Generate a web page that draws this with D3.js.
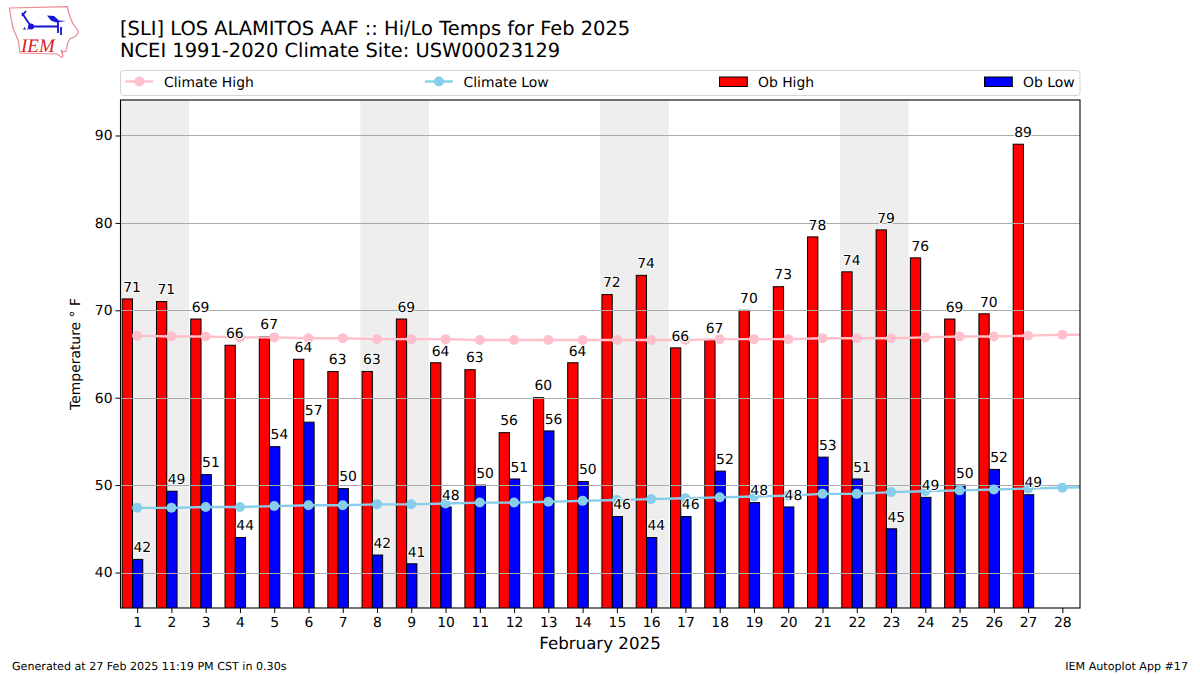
<!DOCTYPE html>
<html><head><meta charset="utf-8">
<script src="https://cdn.jsdelivr.net/npm/d3@7/dist/d3.min.js"></script>
<style>
html,body{margin:0;padding:0;background:#fff;}
svg{display:block;}
text{font-family:"DejaVu Sans",sans-serif;fill:#000;text-rendering:geometricPrecision;}
</style></head><body><svg id="c" width="1200" height="675"></svg>
<script>
const days = d3.range(1, 29);
const obHigh = [71.3,71,69,66,67,64.4,63,63,69,64,63.2,56,60,64,71.8,74,65.7,66.6,70,72.7,78.4,74.4,79.2,76,69,69.6,89];
const obLow = [41.5,49.3,51.2,44,54.4,57.2,49.6,42,41,47.5,50,50.7,56.2,50.4,46.4,44,46.4,51.6,48,47.5,53.2,50.7,45,48.6,50,51.8,48.9];
const climateHigh = [67.1,67,67,66.9,66.9,66.8,66.8,66.7,66.7,66.7,66.6,66.6,66.6,66.6,66.6,66.6,66.6,66.7,66.7,66.7,66.8,66.8,66.8,66.9,67,67,67.1,67.2,67.2];
const climateLow = [47.4,47.4,47.5,47.5,47.6,47.7,47.7,47.8,47.8,47.9,48,48,48.1,48.2,48.3,48.4,48.5,48.6,48.7,48.8,49,49,49.2,49.3,49.4,49.5,49.6,49.7,49.8];
const weekendStarts = [1,8,15,22];
const yTicks = [40,50,60,70,80,90];
const titleLines = ["[SLI] LOS ALAMITOS AAF :: Hi/Lo Temps for Feb 2025","NCEI 1991-2020 Climate Site: USW00023129"];
const legendItems = ["Climate High","Climate Low","Ob High","Ob Low"];

const L=120.5,R=1080,T=100,B=608;
const svg=d3.select("#c");
const x=d3.scaleLinear().domain([0.5,28.5]).range([120.5,1080]);
const y=d3.scaleLinear().domain([35.94,94.06]).range([B,T]);
const bw=x(0.3)-x(0);

svg.append("defs").append("clipPath").attr("id","plot").append("rect").attr("x",L).attr("y",T).attr("width",R-L).attr("height",B-T);

const plot=svg.append("g").attr("clip-path","url(#plot)");
plot.selectAll(".wk").data(weekendStarts).join("rect")
 .attr("x",d=>x(d-0.5)).attr("width",x(2)-x(0)).attr("y",T).attr("height",B-T).attr("fill","#eeeeee");

function bars(vals,color,off){
 plot.append("g").selectAll("rect").data(vals).join("rect")
  .attr("x",(d,i)=>x(days[i]+off)).attr("width",bw)
  .attr("y",d=>y(d)).attr("height",d=>B-y(d)+2)
  .attr("fill",color).attr("stroke","#000").attr("stroke-width",1);
}
bars(obHigh,"#ff0000",-0.45);
bars(obLow,"#0000ff",-0.15);

plot.append("g").selectAll("line").data(yTicks).join("line")
 .attr("x1",L).attr("x2",R).attr("y1",d=>Math.round(y(d))+.5).attr("y2",d=>Math.round(y(d))+.5)
 .attr("stroke","#aaaaaa").attr("stroke-width",1);

function clim(vals,color){
 const g=plot.append("g");
 g.append("path").datum(vals).attr("fill","none").attr("stroke",color).attr("stroke-width",2.4)
  .attr("d",d3.line().x((d,i)=>x(i+1)-0.5).y(d=>y(d)));
 g.selectAll("circle").data(vals).join("circle").attr("cx",(d,i)=>x(i+1)-0.5).attr("cy",d=>y(d)).attr("r",5).attr("fill",color);
}
clim(climateHigh,"#ffc0cb");
clim(climateLow,"#87ceeb");

function labels(vals,off){
 svg.append("g").selectAll("text").data(vals).join("text")
  .attr("x",(d,i)=>x(days[i]+off)).attr("y",d=>y(d+1)+1.5)
  .attr("font-size",13.9)
  .attr("stroke","#fff").attr("stroke-width",2).attr("paint-order","stroke").attr("stroke-linejoin","round")
  .text(d=>Math.round(d));
}
labels(obHigh,-0.42);
labels(obLow,-0.12);

const xAxis=d3.axisBottom(x).tickValues(days).tickSize(5).tickPadding(4).tickFormat(d3.format("d"));
const yAxis=d3.axisLeft(y).tickValues(yTicks).tickSize(5).tickPadding(3);
const gx=svg.append("g").attr("transform",`translate(-0.5,${B})`).call(xAxis);
const gy=svg.append("g").attr("transform",`translate(${L},0)`).call(yAxis);
[gx,gy].forEach(g=>{g.select(".domain").remove();g.selectAll("text").attr("font-size",13.9).attr("font-family","DejaVu Sans");g.selectAll("line").attr("stroke","#000").attr("stroke-width",1);});

svg.append("rect").attr("x",L).attr("y",T).attr("width",R-L).attr("height",B-T).attr("fill","none").attr("stroke","#000").attr("stroke-width",1.1);

svg.append("g").selectAll("text").data(titleLines).join("text").attr("x",120).attr("y",(d,i)=>35+i*22).attr("font-size",19.44).text(d=>d);
svg.append("text").attr("x",600).attr("y",649).attr("text-anchor","middle").attr("font-size",16.67).text("February 2025");
svg.append("text").attr("transform","translate(80,354) rotate(-90)").attr("text-anchor","middle").attr("font-size",13.9).text("Temperature \u00B0 F");
svg.append("text").attr("x",12).attr("y",670).attr("font-size",11.11).text("Generated at 27 Feb 2025 11:19 PM CST in 0.30s");
svg.append("text").attr("x",1188).attr("y",670).attr("text-anchor","end").attr("font-size",11.11).text("IEM Autoplot App #17");

// legend
svg.append("rect").attr("x",120.5).attr("y",70.5).attr("width",959.5).attr("height",25).attr("rx",3).attr("fill","#fff").attr("stroke","#d5d5d5");
const legX=[125.5,425,719.5,984.5], legH=27.8, ly=81.5;
legendItems.forEach((t,i)=>{
 const lx=legX[i];
 if(i<2){
  const c=i==0?"#ffc0cb":"#87ceeb";
  svg.append("line").attr("x1",lx).attr("x2",lx+legH).attr("y1",ly).attr("y2",ly).attr("stroke",c).attr("stroke-width",2.4);
  svg.append("circle").attr("cx",lx+legH/2).attr("cy",ly).attr("r",5).attr("fill",c);
 } else {
  svg.append("rect").attr("x",lx).attr("y",ly-4.5).attr("width",legH).attr("height",9.5).attr("fill",i==2?"#ff0000":"#0000ff").attr("stroke","#000").attr("stroke-width",1);
 }
 svg.append("text").attr("x",lx+legH+10.7).attr("y",ly+5).attr("font-size",13.9).text(t);
});

// IEM logo
const logo=svg.append("g");
logo.append("path").attr("d","M9.5 8 L67.5 6.7 L68.5 12 L70.5 18 L73 24 L77 29 L78.5 32 L76 36 L70 39 L68 42 L67 47 L66 51 L63 52 L61 50 L63 56 L62 57.5 L57 54 L20 53 L18 40 L13 28 L11 18 Z")
 .attr("fill","#fff").attr("stroke","#e88a92").attr("stroke-width",1.2);
const blue="#1414d2";
logo.append("path").attr("d","M31 26.5 H58 M58 21 V33 M61 27 V35 M22 13 L28 22 L31 26 M22 16 L26 11").attr("fill","none").attr("stroke",blue).attr("stroke-width",1.8);
logo.append("circle").attr("cx",31).attr("cy",26.5).attr("r",3).attr("fill",blue);
logo.append("path").attr("d","M47 15.5 L54 16 L59 20.5 L66 21 L56 22.5 L51 20.5 Z").attr("fill",blue);
logo.append("path").attr("d","M23 29.5 l1.5 -2.5 l1.5 2.5 z M27 29.5 l1 -2 l1 2 z").attr("fill",blue);
logo.append("text").attr("x",21).attr("y",52).attr("font-size",19).attr("font-style","italic").attr("style","font-family:'Liberation Serif';fill:#d8202c").text("IEM");
</script></body></html>
